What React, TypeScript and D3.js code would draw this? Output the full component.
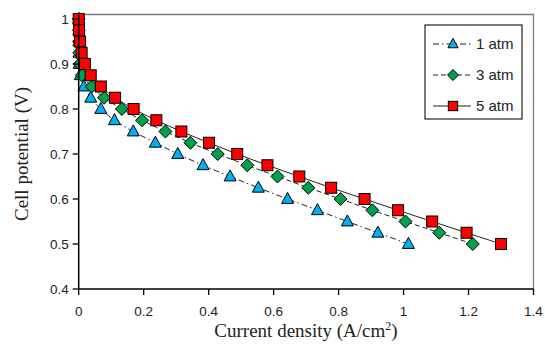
import React from "react";
import * as d3 from "d3";

const voltages = [1.0, 0.975, 0.95, 0.925, 0.9, 0.875, 0.85, 0.825, 0.8, 0.775, 0.75, 0.725, 0.7, 0.675, 0.65, 0.625, 0.6, 0.575, 0.55, 0.525, 0.5];
const current1atm = [0, 0.0002, 0.0004, 0.0008, 0.0015, 0.005, 0.016, 0.037, 0.068, 0.11, 0.168, 0.236, 0.305, 0.383, 0.466, 0.553, 0.643, 0.735, 0.827, 0.921, 1.015];
const current3atm = [0, 0.0003, 0.0008, 0.0018, 0.003, 0.01, 0.04, 0.078, 0.133, 0.195, 0.267, 0.344, 0.428, 0.519, 0.612, 0.707, 0.806, 0.904, 1.006, 1.11, 1.213];
const current5atm = [0, 0.001, 0.004, 0.009, 0.019, 0.037, 0.068, 0.112, 0.169, 0.239, 0.316, 0.401, 0.488, 0.581, 0.679, 0.777, 0.88, 0.983, 1.088, 1.194, 1.3];
const seriesNames = ["1 atm", "3 atm", "5 atm"];
const xTicks = [0, 0.2, 0.4, 0.6, 0.8, 1, 1.2, 1.4];
const yTicks = [0.4, 0.5, 0.6, 0.7, 0.8, 0.9, 1];

const W = 545, H = 351;
const left = 78.7, right = 533.5, bottom = 289, top1 = 19;
const x = d3.scaleLinear().domain([0, 1.4]).range([left, right]);
const y = d3.scaleLinear().domain([0.4, 1.0]).range([bottom, top1]);

const styles = [
  { color: "#00B0F0", dash: "6,3,1.5,3", marker: "triangle" },
  { color: "#00A04C", dash: "5,3", marker: "diamond" },
  { color: "#FF0000", dash: "", marker: "square" },
];
const allSeries = [current1atm, current3atm, current5atm];

function Marker({ type, cx, cy, fill, s = 1 }: { type: string; cx: number; cy: number; fill: string; s?: number }) {
  if (type === "square") {
    const h = 5.5 * s;
    return <rect x={cx - h} y={cy - h} width={2 * h} height={2 * h} fill={fill} stroke="#000" strokeWidth={1} />;
  }
  if (type === "diamond") {
    const r = 6.5 * s;
    return <path d={`M${cx},${cy - r}L${cx + r},${cy}L${cx},${cy + r}L${cx - r},${cy}Z`} fill={fill} stroke="#000" strokeWidth={1} />;
  }
  const h = 11 * s, w = 12 * s;
  return <path d={`M${cx},${cy - h * 0.6}L${cx + w / 2},${cy + h * 0.4}L${cx - w / 2},${cy + h * 0.4}Z`} fill={fill} stroke="#000" strokeWidth={1} />;
}

export default function App() {
  const line = d3
    .line<[number, number]>()
    .x((d) => x(d[0]))
    .y((d) => y(d[1]))
    .curve(d3.curveCatmullRom.alpha(0.5));
  const topY = y(1.01);
  const tickFont = "'Liberation Sans', Arial, sans-serif";
  const titleFont = "'Liberation Serif', 'Times New Roman', serif";
  return (
    <div style={{ position: "fixed", left: 0, top: 0 }}>
      <svg width={W} height={H} style={{ display: "block", background: "#fff" }}>
        <rect x={0} y={0} width={W} height={H} fill="#fff" />
        <path d={`M${left},${topY}H${right}V${bottom}`} fill="none" stroke="#7a7a7a" strokeWidth={1.3} />
        {allSeries.map((cur, si) => {
          const pts = cur.map((c, i) => [c, voltages[i]] as [number, number]).reverse();
          return (
            <g key={si}>
              <path d={line(pts) || ""} fill="none" stroke="#222" strokeWidth={1} strokeDasharray={styles[si].dash || undefined} />
              {cur.map((c, i) => (
                <Marker key={i} type={styles[si].marker} cx={x(c)} cy={y(voltages[i])} fill={styles[si].color} />
              ))}
            </g>
          );
        })}
        <line x1={left} x2={left} y1={topY} y2={bottom} stroke="#000" strokeWidth={1.5} />
        <line x1={left} x2={right} y1={bottom} y2={bottom} stroke="#000" strokeWidth={1.5} />
        {yTicks.map((t) => (
          <g key={"y" + t}>
            <line x1={left - 6} x2={left} y1={y(t)} y2={y(t)} stroke="#000" strokeWidth={1.3} />
            <text x={left - 10} y={y(t)} dy="0.35em" textAnchor="end" fontFamily={tickFont} fontSize={13.5} fill="#222">
              {String(t)}
            </text>
          </g>
        ))}
        {xTicks.map((t) => (
          <g key={"x" + t}>
            <line x1={x(t)} x2={x(t)} y1={bottom} y2={bottom + 6} stroke="#000" strokeWidth={1.3} />
            <text x={x(t)} y={311} dy="0.35em" textAnchor="middle" fontFamily={tickFont} fontSize={13.5} fill="#222">
              {String(t)}
            </text>
          </g>
        ))}
        <text x={306} y={337} textAnchor="middle" fontFamily={titleFont} fontSize={19} fill="#222">
          Current density (A/cm<tspan dy={-7} fontSize={12}>2</tspan><tspan dy={7}>)</tspan>
        </text>
        <text transform={`translate(28,154) rotate(-90)`} textAnchor="middle" fontFamily={titleFont} fontSize={19} fill="#222">
          Cell potential (V)
        </text>
        <rect x={425} y={25} width={97} height={94} fill="#fff" stroke="#222" strokeWidth={1.2} />
        {seriesNames.map((n, i) => {
          const ly = 44 + i * 31;
          return (
            <g key={n}>
              <line x1={433} x2={471} y1={ly} y2={ly} stroke="#222" strokeWidth={1} strokeDasharray={styles[i].dash || undefined} />
              <Marker type={styles[i].marker} cx={453} cy={ly} fill={styles[i].color} s={0.85} />
              <text x={476} y={ly} dy="0.35em" fontFamily={tickFont} fontSize={15} fill="#222">
                {n}
              </text>
            </g>
          );
        })}
      </svg>
    </div>
  );
}
